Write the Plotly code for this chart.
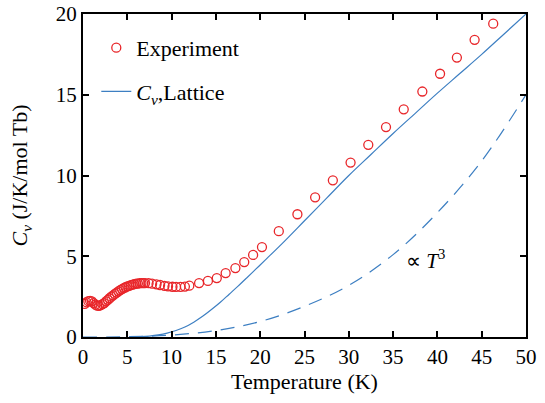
import plotly.graph_objects as go

# Experiment data (T in K, Cv in J/K/mol Tb)
exp_T = [0.2, 0.4, 0.6, 0.8, 1.0, 1.2, 1.4, 1.6, 1.8, 2.0, 2.2, 2.4, 2.6, 2.8, 3.0,
         3.2, 3.4, 3.6, 3.8, 4.0, 4.2, 4.4, 4.6, 4.8, 5.0, 5.2, 5.4, 5.6, 5.8, 6.0,
         6.2, 6.4, 6.6, 6.8, 7.0, 7.4, 7.8, 8.3, 8.7, 9.2, 9.6, 10.1, 10.5, 11.0,
         11.5, 12.0, 13.1, 14.1, 15.1, 16.1, 17.2, 18.2, 19.2, 20.2, 22.1, 24.2,
         26.2, 28.2, 30.2, 32.2, 34.2, 36.2, 38.3, 40.3, 42.2, 44.2, 46.3]
exp_C = [2.05, 2.15, 2.22, 2.24, 2.2, 2.1, 2.0, 1.94, 1.93, 1.97, 2.03, 2.1, 2.2, 2.3, 2.4,
         2.5, 2.58, 2.67, 2.75, 2.83, 2.9, 2.97, 3.03, 3.08, 3.13, 3.17, 3.21, 3.24, 3.27, 3.3,
         3.31, 3.33, 3.34, 3.34, 3.34, 3.33, 3.3, 3.26, 3.22, 3.17, 3.14, 3.11, 3.1, 3.1,
         3.12, 3.18, 3.34, 3.47, 3.65, 3.96, 4.27, 4.64, 5.08, 5.57, 6.55, 7.6,
         8.65, 9.7, 10.8, 11.9, 13.0, 14.1, 15.2, 16.3, 17.3, 18.4, 19.4]

# Lattice contribution
lat_T = [5.5, 6.5, 7.5, 8.5, 9.5, 10.5, 11.5, 12.5, 13.5, 14.5, 15.5, 16.5, 17.5,
         18.5, 19.5, 20.5, 22.5, 25.0, 27.5, 30.0, 32.5, 35.0, 37.5, 40.0, 42.5,
         45.0, 47.5, 50.0]
lat_C = [0.0, 0.02, 0.06, 0.13, 0.24, 0.4, 0.62, 0.92, 1.28, 1.7, 2.15, 2.65, 3.15,
         3.67, 4.2, 4.73, 5.8, 7.2, 8.6, 10.0, 11.3, 12.6, 13.85, 15.1, 16.3,
         17.5, 18.75, 20.0]

# T^3 guide (dashed)
t3_T = [0, 5, 10, 15, 20, 25, 30, 35, 40, 45, 50]
t3_C = [0, 0.015, 0.12, 0.4, 0.96, 1.9, 3.2, 5.1, 7.7, 10.9, 15.0]

x_ticks = [0, 5, 10, 15, 20, 25, 30, 35, 40, 45, 50]
y_ticks = [0, 5, 10, 15, 20]

FONT = "Liberation Serif"
RED = "#e8262a"
BLUE = "#3d7fc2"

fig = go.Figure()
fig.add_trace(go.Scatter(
    x=t3_T, y=t3_C, mode="lines", line=dict(color=BLUE, width=1.2, dash="14px,9px"),
    line_shape="spline", showlegend=False, hoverinfo="skip"))
fig.add_trace(go.Scatter(
    x=lat_T, y=lat_C, mode="lines", line=dict(color=BLUE, width=1.2),
    line_shape="spline", name="<i>C</i><sub><i>v</i></sub>,Lattice",
    legendrank=2, legendgroup="lat"))
fig.add_trace(go.Scatter(
    x=exp_T, y=exp_C, mode="markers", name="Experiment", legendrank=1, legendgroup="exp",
    marker=dict(symbol="circle-open", size=9, color=RED, line=dict(width=1.3, color=RED))))

fig.add_annotation(x=38.6, y=4.8, text="\u221d <i>T</i><sup>3</sup>", showarrow=False,
                   font=dict(family=FONT, size=21, color="black"))

axis_common = dict(showline=True, linewidth=2.2, linecolor="black", mirror="allticks",
                   ticks="inside", ticklen=6, tickwidth=2, tickcolor="black",
                   showgrid=False, zeroline=False, automargin=False,
                   tickfont=dict(family=FONT, size=21, color="black"))

fig.update_xaxes(range=[0, 50], tickvals=x_ticks, ticktext=[str(v) for v in x_ticks],
                 title=dict(text="Temperature (K)", font=dict(family=FONT, size=22, color="black"),
                            standoff=4), **axis_common)
fig.update_yaxes(range=[0, 20], tickvals=y_ticks, ticktext=[str(v) for v in y_ticks],
                 title=dict(text="<i>C</i><sub><i>v</i></sub> (J/K/mol Tb)",
                            font=dict(family=FONT, size=22, color="black"), standoff=22),
                 **axis_common)

fig.update_layout(
    width=545, height=403,
    margin=dict(l=83, r=19, t=14, b=66, autoexpand=False),
    plot_bgcolor="white", paper_bgcolor="white",
    font=dict(family=FONT, size=20, color="black"),
    legend=dict(x=0.03, y=0.96, xanchor="left", yanchor="top",
                traceorder="grouped", tracegroupgap=12, itemwidth=30,
                bgcolor="rgba(0,0,0,0)", font=dict(family=FONT, size=22, color="black")),
)

fig.write_html("out.html", config={"displayModeBar": False},
               post_script="document.body.style.margin='0';")
